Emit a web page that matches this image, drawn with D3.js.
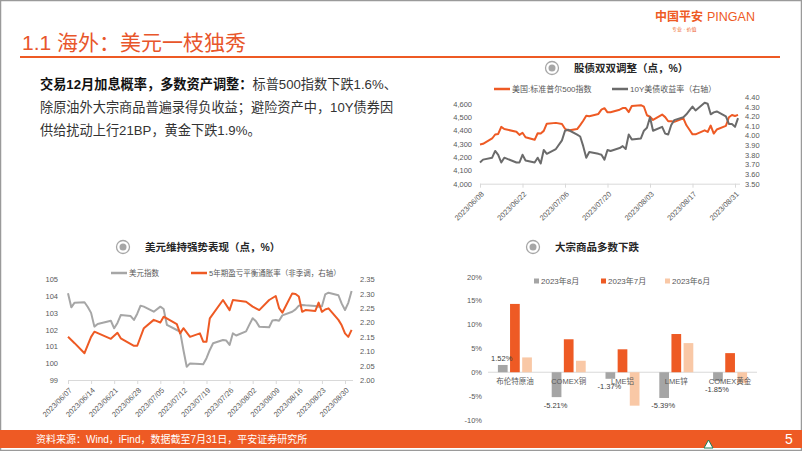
<!DOCTYPE html>
<html>
<head>
<meta charset="utf-8">
<script src="https://cdn.jsdelivr.net/npm/d3@7"></script>
<style>
  body { margin: 0; background: #fff; }
  svg { display: block; font-family: "Liberation Sans", "Noto Sans CJK SC", sans-serif; }
</style>
</head>
<body>
<div id="slide"></div>
<script>
// ---- data ----
// 股债双双调整
const stockDays = ['06-08','06-09','06-12','06-13','06-14','06-15','06-16','06-20','06-21','06-22','06-23','06-26','06-27','06-28','06-29','06-30',
  '07-03','07-05','07-06','07-07','07-10','07-11','07-12','07-13','07-14','07-17','07-18','07-19','07-20','07-21','07-24','07-25','07-26','07-27','07-28','07-31',
  '08-01','08-02','08-03','08-04','08-07','08-08','08-09','08-10','08-11','08-14','08-15','08-16','08-17','08-18','08-21','08-22','08-23','08-24','08-25','08-28','08-29','08-30','08-31','09-01'];
const spxValues = [4294,4299,4339,4369,4373,4426,4410,4389,4366,4382,4348,4329,4378,4377,4396,4450,
  4456,4447,4412,4399,4410,4439,4472,4510,4505,4523,4555,4566,4535,4536,4555,4567,4567,4537,4582,4589,
  4577,4513,4502,4478,4518,4499,4468,4469,4464,4490,4438,4404,4370,4370,4400,4388,4436,4376,4406,4433,4498,4515,4508,4516];
const ust10yValues = [3.72,3.75,3.77,3.84,3.80,3.72,3.77,3.72,3.72,3.80,3.74,3.72,3.77,3.71,3.85,3.81,
  3.86,3.95,4.05,4.06,4.01,3.99,3.89,3.77,3.83,3.81,3.80,3.75,3.85,3.84,3.87,3.89,3.86,4.01,3.96,3.97,
  4.05,4.08,4.19,4.05,4.09,4.02,4.01,4.11,4.16,4.19,4.22,4.26,4.30,4.26,4.34,4.33,4.22,4.24,4.25,4.20,4.12,4.12,4.09,4.18];
const stockTicks = ['06-08','06-22','07-06','07-20','08-03','08-17','08-31'];

// 美元维持强势表现
const dxyDays = ['06-07'].concat(stockDays);
const dxyValues = [104.17,103.33,103.61,103.63,103.35,103.0,102.18,102.34,102.53,102.08,102.4,102.87,102.81,102.58,102.95,103.43,103.37,
  103.07,103.37,103.23,102.28,101.98,101.88,100.79,99.79,99.99,99.95,99.94,100.3,100.79,101.19,101.38,101.35,101.09,101.78,101.65,101.9,
  102.3,102.68,102.5,102.18,102.14,102.55,102.58,102.53,102.85,103.07,103.21,103.43,103.47,103.45,103.41,103.37,103.4,104.1,104.2,104.05,103.55,103.17,103.6,104.3];
const beDays = ['06-07','06-09','06-12','06-14','06-15','06-20','06-22','06-23','06-27','06-28','06-30',
  '07-03','07-05','07-06','07-10','07-11','07-12','07-14','07-17','07-18','07-19','07-20','07-24','07-26','07-27','07-31',
  '08-02','08-04','08-07','08-09','08-10','08-11','08-14','08-15','08-16','08-17','08-18','08-21','08-22','08-23','08-24','08-25','08-28','08-29','08-30','08-31','09-01'];
const beValues = [2.150,2.128,2.093,2.150,2.168,2.143,2.164,2.145,2.119,2.119,2.180,
  2.209,2.200,2.220,2.194,2.162,2.180,2.150,2.162,2.133,2.133,2.214,2.278,2.243,2.278,2.272,
  2.255,2.243,2.278,2.292,2.250,2.234,2.301,2.299,2.290,2.237,2.243,2.240,2.269,2.237,2.245,2.249,2.209,2.190,2.162,2.150,2.174];
const dollarTicks = ['06-07','06-14','06-21','06-28','07-05','07-12','07-19','07-26','08-02','08-09','08-16','08-23','08-30'];

// 大宗商品多数下跌
const commodities = ['布伦特原油','COMEX铜','LME铝','LME锌','COMEX黄金'];
const months = ['2023年8月','2023年7月','2023年6月'];
const augChange = [1.52,-5.21,-1.37,-5.39,-1.85];
const julChange = [14.3,6.9,4.8,8.0,4.0];
const junChange = [3.1,2.4,-7.0,6.1,-2.3];

// ---- page ----
const ORANGE = '#EE5A24';
const GREY_TXT = '#595959';
const parseDay = s => d3.timeParse('%Y-%m-%d')('2023-' + s);
const fmtDay = d3.timeFormat('%Y/%m/%d');

const svg = d3.select('#slide').append('svg')
  .attr('width', 802)
  .attr('height', 451);

svg.append('rect').attr('x', 0.5).attr('y', 0.5).attr('width', 801).attr('height', 450)
  .attr('fill', '#fff').attr('stroke', '#9a9a9a').attr('stroke-width', 1.5);

// header
svg.append('text').attr('x', 22).attr('y', 50)
  .attr('fill', '#E8562B').style('font-size', '21px')
  .text('1.1 海外：美元一枝独秀');
svg.append('line').attr('x1', 20).attr('x2', 780).attr('y1', 57).attr('y2', 57)
  .attr('stroke', ORANGE).attr('stroke-width', 2);
svg.append('text').attr('x', 655).attr('y', 21).attr('fill', ORANGE)
  .style('font-size', '12px').style('font-weight', 'bold').text('中国平安');
svg.append('text').attr('x', 707).attr('y', 21).attr('fill', ORANGE)
  .style('font-size', '12.5px').text('PINGAN');
svg.append('text').attr('x', 672).attr('y', 31).attr('fill', ORANGE)
  .style('font-size', '5px').text('专业 · 价值');

// commentary
const para = svg.append('text').style('font-size', '13.2px').attr('fill', '#333');
const l1 = para.append('tspan').attr('x', 40).attr('y', 89);
l1.append('tspan').style('font-weight', 'bold').attr('fill', '#111').text('交易12月加息概率，多数资产调整：');
l1.append('tspan').text('标普500指数下跌1.6%、');
para.append('tspan').attr('x', 40).attr('y', 112).text('除原油外大宗商品普遍录得负收益；避险资产中，10Y债券因');
para.append('tspan').attr('x', 40).attr('y', 135).text('供给扰动上行21BP，黄金下跌1.9%。');

// footer
svg.append('rect').attr('x', 0).attr('y', 430).attr('width', 802).attr('height', 18).attr('fill', ORANGE);
svg.append('text').attr('x', 36).attr('y', 443).attr('fill', '#fff').style('font-size', '10px')
  .text('资料来源：Wind，iFind，数据截至7月31日，平安证券研究所');
svg.append('text').attr('x', 785).attr('y', 444).attr('fill', '#fff').style('font-size', '14px').text('5');
svg.append('path').attr('d', 'M704,448 L708.5,440 L713,448 Z')
  .attr('fill', '#fff').attr('stroke', '#1a7f5a').attr('stroke-width', 1);

function chartTitle(cx, cy, label) {
  svg.append('circle').attr('cx', cx).attr('cy', cy).attr('r', 6.5)
    .attr('fill', '#fff').attr('stroke', '#a6a6a6').attr('stroke-width', 1.3);
  svg.append('circle').attr('cx', cx).attr('cy', cy).attr('r', 3.5).attr('fill', '#a6a6a6');
  svg.append('text').attr('x', cx + 22).attr('y', cy + 4)
    .style('font-size', '10.5px').style('font-weight', 'bold').attr('fill', '#262626')
    .text(label);
}

function legendLine(x, y, color, label, size) {
  svg.append('line').attr('x1', x).attr('x2', x + 16).attr('y1', y).attr('y2', y)
    .attr('stroke', color).attr('stroke-width', 2.5);
  svg.append('text').attr('x', x + 18).attr('y', y + 3)
    .style('font-size', size).attr('fill', GREY_TXT).text(label);
}

function styleAxis(g) {
  g.select('.domain').remove();
  g.selectAll('text').attr('fill', GREY_TXT).style('font-size', '7.5px');
}

function dualLineChart(cfg) {
  const x = d3.scaleTime().domain(cfg.xDomain.map(parseDay)).range(cfg.xRange);
  const yL = d3.scaleLinear().domain(cfg.leftDomain).range([cfg.bottom, cfg.top]);
  const yR = d3.scaleLinear().domain(cfg.rightDomain).range([cfg.bottom, cfg.top]);

  svg.append('g').attr('transform', `translate(${cfg.xRange[0]},0)`)
    .call(d3.axisLeft(yL).tickValues(cfg.leftTicks).tickSize(0).tickPadding(cfg.leftPad).tickFormat(cfg.leftFormat))
    .call(styleAxis);
  svg.append('g').attr('transform', `translate(${cfg.rightAxisX},0)`)
    .call(d3.axisRight(yR).tickValues(cfg.rightTicks).tickSize(0).tickPadding(cfg.rightPad).tickFormat(d3.format('.2f')))
    .call(styleAxis);

  const xg = svg.append('g').attr('transform', `translate(0,${cfg.bottom})`)
    .call(d3.axisBottom(x).tickValues(cfg.ticks.map(parseDay)).tickSize(4).tickFormat(fmtDay));
  xg.select('.domain').attr('stroke', '#d9d9d9').attr('d', `M${cfg.xRange[0]},0.5H${cfg.axisEnd}`);
  xg.selectAll('.tick line').attr('stroke', '#d9d9d9');
  xg.selectAll('text')
    .attr('fill', GREY_TXT).style('font-size', '7.5px')
    .attr('x', 0).attr('y', 0).attr('dy', '0.35em')
    .attr('text-anchor', 'end')
    .attr('transform', 'translate(2,9) rotate(-45)');

  cfg.series.forEach(s => {
    const y = s.axis === 'left' ? yL : yR;
    const pts = s.days.map((d, i) => ({ date: parseDay(d), v: s.values[i] }));
    svg.append('path').datum(pts)
      .attr('fill', 'none').attr('stroke', s.color).attr('stroke-width', 2)
      .attr('stroke-linejoin', 'round')
      .attr('d', d3.line().x(d => x(d.date)).y(d => y(d.v)));
  });
}

// chart 1: 股债双双调整
chartTitle(552, 68, '股债双双调整（点，%）');
legendLine(494, 89, ORANGE, '美国:标准普尔500指数', '8px');
legendLine(612, 89, '#6b6b6b', '10Y美债收益率（右轴）', '8px');
dualLineChart({
  xDomain: ['06-08', '08-31'], xRange: [480, 735], axisEnd: 740,
  top: 97, bottom: 183.7,
  leftDomain: [4000, 4650], leftTicks: d3.range(4000, 4601, 100), leftFormat: d3.format(','), leftPad: 8,
  rightDomain: [3.5, 4.4], rightTicks: d3.range(3.5, 4.41, 0.1), rightAxisX: 740, rightPad: 5,
  ticks: stockTicks,
  series: [
    { days: stockDays, values: spxValues, axis: 'left', color: ORANGE },
    { days: stockDays, values: ust10yValues, axis: 'right', color: '#6b6b6b' }
  ]
});

// chart 2: 美元维持强势表现
chartTitle(123, 247, '美元维持强势表现（点，%）');
legendLine(111, 273, '#a6a6a6', '美元指数', '7.5px');
legendLine(191, 273, ORANGE, '5年期盈亏平衡通胀率（非季调，右轴）', '7.5px');
dualLineChart({
  xDomain: ['06-07', '08-30'], xRange: [68, 345], axisEnd: 353,
  top: 279.3, bottom: 380,
  leftDomain: [99, 105], leftTicks: d3.range(99, 106, 1), leftFormat: d3.format('d'), leftPad: 10,
  rightDomain: [2.0, 2.35], rightTicks: d3.range(2.0, 2.36, 0.05), rightAxisX: 353, rightPad: 7,
  ticks: dollarTicks,
  series: [
    { days: dxyDays, values: dxyValues, axis: 'left', color: '#a6a6a6' },
    { days: beDays, values: beValues, axis: 'right', color: ORANGE }
  ]
});

// chart 3: 大宗商品多数下跌
chartTitle(533, 247, '大宗商品多数下跌');
const barColors = ['#a5a5a5', ORANGE, '#f9c8a6'];
const x0 = d3.scaleBand().domain(commodities).range([488, 757]);
const x1 = d3.scaleBand().domain(months).range([-17, 17]).paddingInner(0.2);
const yBar = d3.scaleLinear().domain([-10, 20]).range([420, 276.7]);

svg.append('g').attr('transform', 'translate(488,0)')
  .call(d3.axisLeft(yBar).tickValues(d3.range(-10, 21, 5)).tickSize(0).tickPadding(6).tickFormat(d => d + '%'))
  .call(styleAxis);
svg.append('line').attr('x1', 488).attr('x2', 757).attr('y1', yBar(0)).attr('y2', yBar(0))
  .attr('stroke', '#d9d9d9').attr('stroke-width', 1);

const seriesByMonth = [augChange, julChange, junChange];
const groups = svg.append('g').selectAll('g')
  .data(commodities)
  .join('g')
  .attr('transform', d => `translate(${x0(d) + x0.bandwidth() / 2},0)`);

groups.selectAll('rect')
  .data((c, i) => months.map((m, k) => ({ m, k, v: seriesByMonth[k][i] })))
  .join('rect')
  .attr('x', d => x1(d.m))
  .attr('width', x1.bandwidth())
  .attr('y', d => yBar(Math.max(0, d.v)))
  .attr('height', d => Math.abs(yBar(d.v) - yBar(0)))
  .attr('fill', d => barColors[d.k]);

groups.append('text')
  .attr('text-anchor', 'middle').attr('y', yBar(0) + 11.5)
  .style('font-size', '7.5px').attr('fill', GREY_TXT)
  .text(d => d);

groups.append('text')
  .attr('text-anchor', 'middle')
  .attr('x', x1(months[0]) + x1.bandwidth() / 2 - 1)
  .attr('y', (c, i) => augChange[i] >= 0 ? yBar(augChange[i]) - 4 : yBar(augChange[i]) + 10.5)
  .style('font-size', '7.5px').attr('fill', '#404040')
  .text((c, i) => augChange[i].toFixed(2) + '%');

const legend = svg.append('g').selectAll('g')
  .data(months)
  .join('g')
  .attr('transform', (d, i) => `translate(${[534, 601, 665][i]},281)`);
legend.append('rect').attr('y', -2.5).attr('width', 5).attr('height', 5).attr('fill', (d, i) => barColors[i]);
legend.append('text').attr('x', 7).attr('y', 3).style('font-size', '8px').attr('fill', GREY_TXT).text(d => d);
</script>
</body>
</html>
